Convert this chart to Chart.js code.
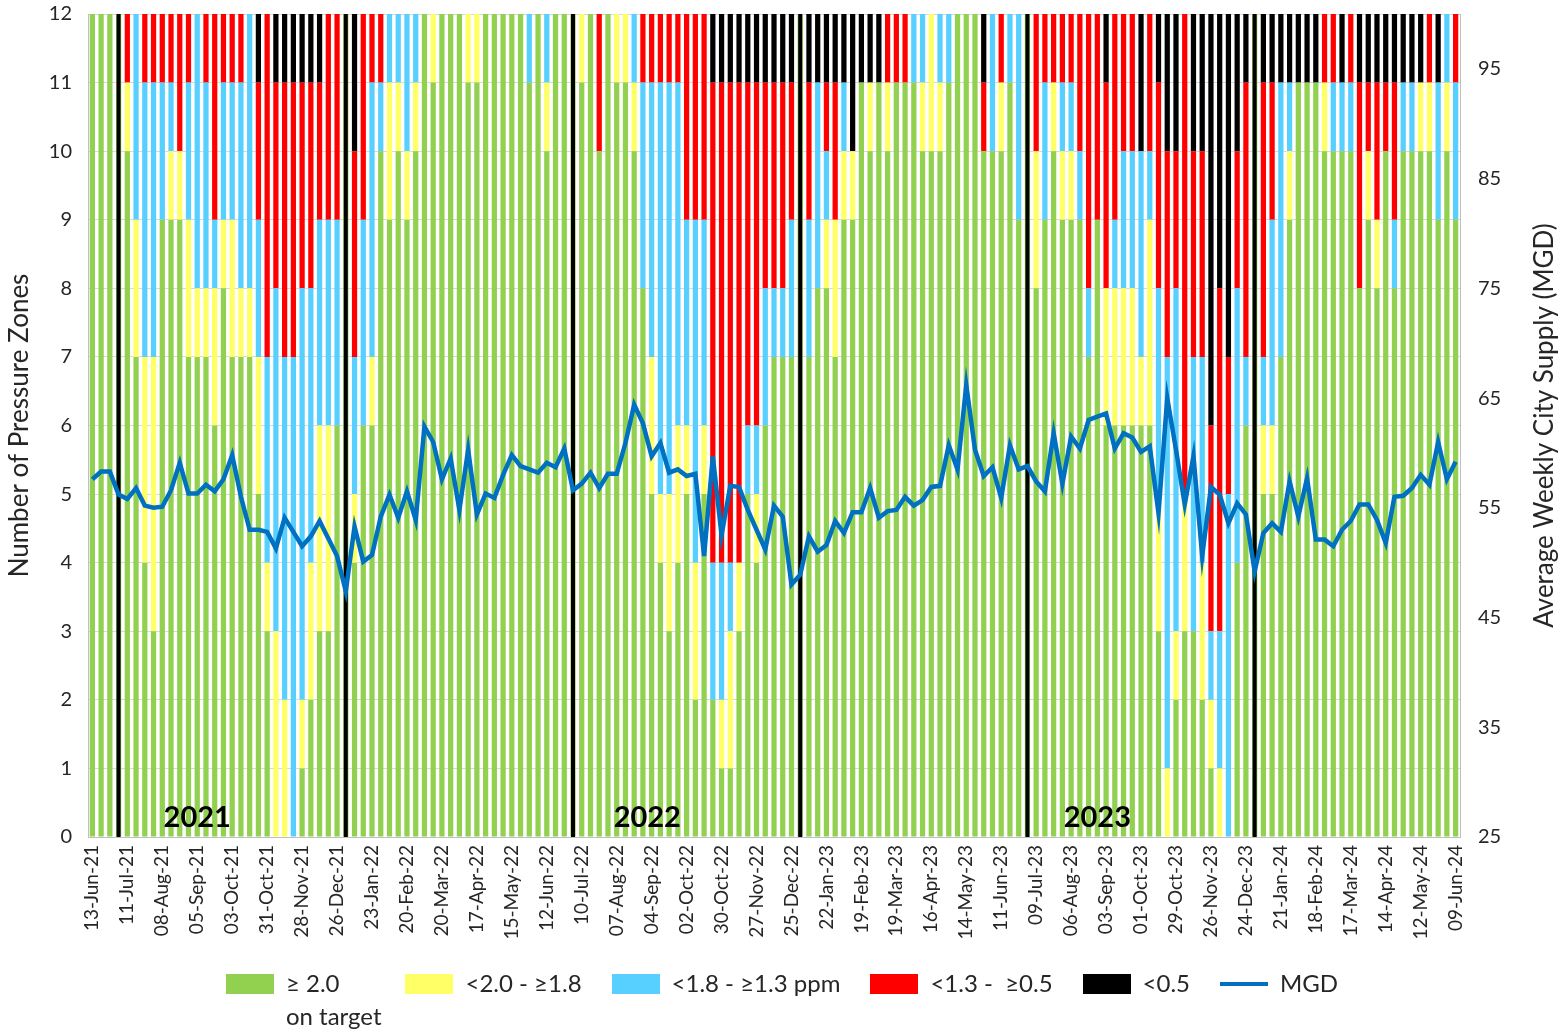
<!DOCTYPE html>
<html>
<head>
<meta charset="utf-8">
<script src="https://cdn.jsdelivr.net/npm/chart.js@4/dist/chart.umd.min.js"></script>
<style>
  body { margin: 0; background: #fff; }
  #wrap { width: 1564px; height: 1030px; }
</style>
</head>
<body>
<div id="wrap"><canvas id="myChart"></canvas></div>
<script>
// printed date every 4th week (157 weekly bars, 13-Jun-21 .. 09-Jun-24)
const tickLabels = [
  '13-Jun-21','11-Jul-21','08-Aug-21','05-Sep-21','03-Oct-21','31-Oct-21','28-Nov-21','26-Dec-21',
  '23-Jan-22','20-Feb-22','20-Mar-22','17-Apr-22','15-May-22','12-Jun-22','10-Jul-22','07-Aug-22',
  '04-Sep-22','02-Oct-22','30-Oct-22','27-Nov-22','25-Dec-22','22-Jan-23','19-Feb-23','19-Mar-23',
  '16-Apr-23','14-May-23','11-Jun-23','09-Jul-23','06-Aug-23','03-Sep-23','01-Oct-23','29-Oct-23',
  '26-Nov-23','24-Dec-23','21-Jan-24','18-Feb-24','17-Mar-24','14-Apr-24','12-May-24','09-Jun-24'
];

// number of pressure zones per chlorine band, one value per week
const onTarget = [
  12,12,12,12,10,7,4,3,9,9, 9,7,7,7,6,8,7,7,7,5, 3,0,0,0,1,2,3,3,6,12,
  4,6,6,10,9,10,9,10,12,11, 12,12,12,11,11,12,12,12,12,12, 11,12,10,12,12,12,11,12,10,12,
  11,11,10,8,5,4,3,4,5,2, 5,2,1,1,3,5,4,6,7,7, 7,12,7,8,8,7,9,9,11,10,
  11,10,11,11,11,10,10,10,11,12, 12,12,10,10,10,11,9,12,8,9, 10,9,9,9,7,9,6,6,6,6,
  6,6,3,0,2,3,3,2,1,0, 0,4,6,12,5,5,7,9,11,11, 11,10,10,10,10,8,9,8,10,8, 10,10,10,10,9,10,9
];
const band18 = [
  0,0,0,0,1,2,3,4,0,1, 1,2,1,1,2,1,2,1,1,2, 1,3,2,0,1,2,3,3,0,0,
  1,0,1,0,2,1,1,1,0,1, 0,0,0,1,1,0,0,0,0,0, 0,0,1,0,0,0,1,0,0,0,
  1,1,1,0,2,1,2,2,1,2, 1,0,1,2,1,0,1,0,0,0, 0,0,0,0,1,2,1,1,0,1,
  0,1,0,0,0,1,2,1,0,0, 0,0,0,0,1,0,0,0,2,0, 1,1,1,0,0,0,2,2,2,2,
  1,3,2,1,1,2,0,2,1,1, 0,0,0,0,1,1,0,1,0,0, 0,1,0,0,0,0,1,1,0,0, 0,0,1,1,0,1,0
];
const band13 = [
  0,0,0,0,0,3,4,4,2,1, 0,2,4,3,1,2,2,3,4,2, 3,5,5,7,6,4,3,3,3,0,
  2,3,4,1,1,1,2,1,0,0, 0,0,0,0,0,0,0,0,0,0, 1,0,1,0,0,0,0,0,0,0,
  0,0,1,3,4,6,6,5,3,5, 3,2,2,1,0,1,1,2,1,1, 2,0,2,3,1,0,1,0,0,0,
  0,0,0,0,1,1,0,1,1,0, 0,0,0,2,0,1,3,0,0,2, 0,1,1,1,1,0,0,1,2,2,
  3,1,3,6,5,0,4,3,1,2, 5,4,1,0,1,3,4,1,0,0, 0,0,1,1,1,0,0,0,0,1, 1,1,0,0,2,1,2
];
const band05 = [
  0,0,0,0,1,0,1,1,1,1, 2,1,0,1,3,1,1,1,0,2, 5,3,4,4,3,3,2,3,3,0,
  3,3,1,1,0,0,0,0,0,0, 0,0,0,0,0,0,0,0,0,0, 0,0,0,0,0,0,0,0,2,0,
  0,0,0,1,1,1,1,1,3,3, 3,7,7,7,7,5,5,3,3,3, 2,0,2,0,1,2,0,0,0,0,
  0,1,1,1,0,0,0,0,0,0, 0,0,1,0,1,0,0,0,2,1, 1,1,1,2,4,3,3,3,2,2,
  0,2,3,3,2,7,3,3,3,5, 2,2,4,0,4,2,0,0,0,0, 0,1,1,0,1,3,1,2,1,2, 0,0,0,1,0,0,1
];
const below05 = [
  0,0,0,0,0,0,0,0,0,0, 0,0,0,0,0,0,0,0,0,1, 0,1,1,1,1,1,1,0,0,0,
  2,0,0,0,0,0,0,0,0,0, 0,0,0,0,0,0,0,0,0,0, 0,0,0,0,0,0,0,0,0,0,
  0,0,0,0,0,0,0,0,0,0, 0,1,1,1,1,1,1,1,1,1, 1,0,1,1,1,1,1,2,1,1,
  1,0,0,0,0,0,0,0,0,0, 0,0,1,0,0,0,0,0,0,0, 0,0,0,0,0,0,1,0,0,0,
  2,0,1,2,2,0,2,2,6,4, 5,2,1,0,1,1,1,1,1,1, 1,0,0,1,0,1,1,1,1,1, 1,1,1,0,1,0,0
];

// average weekly city supply, MGD
const mgd = [
  57.6,58.3,58.3,56.2,55.8,56.8,55.2,55.0,55.1,56.6, 59.1,56.3,56.3,57.1,56.5,57.6,59.8,56.0,53.0,53.0,
  52.8,51.3,54.1,52.8,51.5,52.4,53.8,52.2,50.6,47.4, 53.3,50.1,50.7,54.2,56.2,54.1,56.5,53.9,62.4,61.0,
  57.6,59.5,54.8,60.3,54.4,56.3,55.9,58.0,59.8,58.8, 58.5,58.2,59.1,58.7,60.4,56.6,57.2,58.2,56.8,58.1,
  58.1,60.9,64.4,62.7,59.7,60.9,58.2,58.5,57.9,58.1, 50.6,59.7,52.5,57.0,56.9,54.8,53.0,51.2,55.2,54.2,
  48.0,48.9,52.4,51.0,51.6,53.8,52.7,54.6,54.6,56.8, 54.1,54.7,54.8,56.0,55.2,55.7,56.9,57.0,60.7,58.5,
  66.2,60.3,57.9,58.7,55.9,60.7,58.5,58.8,57.4,56.5, 61.8,57.2,61.5,60.4,63.0,63.3,63.6,60.4,61.8,61.4,
  60.1,60.6,54.5,65.0,60.3,55.3,59.7,50.6,56.9,56.2, 53.6,55.4,54.4,49.2,52.7,53.6,52.8,57.4,54.2,57.7,
  52.1,52.1,51.5,53.0,53.8,55.3,55.3,53.9,51.8,56.0, 56.1,56.8,58.0,57.1,61.0,57.6,59.2
];

const mgdTicks = [25, 35, 45, 55, 65, 75, 85, 95];
const halfYearWeeks = [3, 29, 55, 81, 107, 133];   // black divider lines
const yearLabels = ['2021', '2022', '2023'];
const yearLabelWeeks = [12, 63.5, 115];

const weeks = onTarget.map((_, i) => (i % 4 === 0 ? tickLabels[i / 4] : ''));

const FONT = 'Lato, "Open Sans", sans-serif';
const TEXT = '#262626';
const LEGEND_SIZE = 24;

function swatch(color, isLine) {
  const c = document.createElement('canvas');
  c.width = 48; c.height = 20;
  const g = c.getContext('2d');
  if (isLine) {
    g.strokeStyle = color; g.lineWidth = 4;
    g.beginPath(); g.moveTo(0, 10); g.lineTo(48, 10); g.stroke();
  } else {
    g.fillStyle = color; g.fillRect(0, 0, 48, 20);
  }
  return c;
}

const dividers = {
  id: 'dividers',
  beforeDatasetDraw(chart, args) {
    if (args.meta.type !== 'line') return;
    const { ctx, chartArea, scales: { x, y } } = chart;
    ctx.save();
    ctx.strokeStyle = '#000';
    ctx.lineWidth = 4;
    halfYearWeeks.forEach(w => {
      const px = x.getPixelForValue(w);
      ctx.beginPath();
      ctx.moveTo(px, chartArea.top);
      ctx.lineTo(px, chartArea.bottom);
      ctx.stroke();
    });
    ctx.fillStyle = '#000';
    ctx.font = 'bold 29px ' + FONT;
    ctx.textAlign = 'center';
    ctx.textBaseline = 'middle';
    yearLabels.forEach((t, k) => {
      ctx.fillText(t, x.getPixelForValue(yearLabelWeeks[k]), y.getPixelForValue(0.28));
    });
    ctx.restore();
  },
  afterDraw(chart) {
    const { ctx, chartArea } = chart;
    ctx.save();
    ctx.fillStyle = TEXT;
    ctx.textBaseline = 'middle';
    // right-hand title reads bottom-to-top like the left one
    ctx.translate(chart.width - 19, (chartArea.top + chartArea.bottom) / 2);
    ctx.rotate(-Math.PI / 2);
    ctx.font = '26px ' + FONT;
    ctx.textAlign = 'center';
    ctx.fillText('Average Weekly City Supply (MGD)', 0, 0);
    ctx.restore();

    // second line of the first legend entry
    const hb = chart.legend.legendHitBoxes[0];
    ctx.save();
    ctx.fillStyle = TEXT;
    ctx.font = LEGEND_SIZE + 'px ' + FONT;
    ctx.textBaseline = 'middle';
    ctx.textAlign = 'left';
    ctx.fillText('on target', hb.left + 48 + LEGEND_SIZE / 2, hb.top + hb.height / 2 + 33);
    ctx.restore();
  }
};

const bar = (label, data, color) => ({
  type: 'bar', label, data, backgroundColor: color, order: 1,
  barPercentage: 0.6, categoryPercentage: 1, borderWidth: 0
});

const datasets = [
  bar('\u2265 2.0', onTarget, '#92D050'),
  bar('<2.0 - \u22651.8', band18, '#FFFF66'),
  bar('<1.8 - \u22651.3 ppm', band13, '#57CFFF'),
  bar('<1.3 -  \u22650.5', band05, '#FF0000'),
  bar('<0.5', below05, '#000000'),
  {
    type: 'line', label: 'MGD', data: mgd, yAxisID: 'y2', order: 0,
    borderColor: '#0070C0', borderWidth: 4.5, pointRadius: 0, tension: 0, fill: false
  }
];
const swatches = datasets.map(d => swatch(d.type === 'line' ? d.borderColor : d.backgroundColor, d.type === 'line'));

new Chart(document.getElementById('myChart'), {
  data: { labels: weeks, datasets },
  options: {
    responsive: true,
    maintainAspectRatio: false,
    animation: false,
    layout: { padding: { top: 0, left: 0, right: 0, bottom: 24 } },
    plugins: {
      tooltip: { enabled: false },
      legend: {
        position: 'bottom',
        labels: {
          usePointStyle: true,
          pointStyleWidth: 48,
          padding: 30,
          color: TEXT,
          font: { family: FONT, size: LEGEND_SIZE },
          sort: (a, b) => a.datasetIndex - b.datasetIndex,
          generateLabels(chart) {
            return Chart.defaults.plugins.legend.labels.generateLabels(chart).map(item => ({
              ...item,
              pointStyle: swatches[item.datasetIndex],
              // keep room for the wider "on target" line drawn underneath
              text: item.datasetIndex === 0 ? item.text + '\u2003\u2003' : item.text
            }));
          }
        }
      }
    },
    scales: {
      x: {
        stacked: true,
        grid: { display: false, drawTicks: false },
        border: { color: '#bfbfbf' },
        ticks: {
          autoSkip: false, minRotation: 90, maxRotation: 90, padding: 8,
          color: TEXT, font: { family: FONT, size: 19 },
          callback: (v, i) => weeks[i]
        },
        afterFit: s => { s.height = 105; }
      },
      y: {
        stacked: true, min: 0, max: 12,
        ticks: { stepSize: 1, padding: 16, color: TEXT, font: { family: FONT, size: 20 } },
        grid: { color: '#d9d9d9', drawTicks: false },
        border: { color: '#bfbfbf' },
        title: { display: true, text: 'Number of Pressure Zones', color: TEXT, font: { family: FONT, size: 26 } },
        afterFit: s => { s.width = 88; s.paddingTop = 14; }
      },
      y2: {
        position: 'right', min: 25, max: 100,
        afterBuildTicks: s => { s.ticks = mgdTicks.map(v => ({ value: v })); },
        ticks: { padding: 18, color: TEXT, font: { family: FONT, size: 20 } },
        grid: { display: false, drawTicks: false },
        border: { color: '#bfbfbf' },
        afterFit: s => { s.width = 104; s.paddingTop = 14; }
      }
    }
  },
  plugins: [dividers]
});
</script>
</body>
</html>
